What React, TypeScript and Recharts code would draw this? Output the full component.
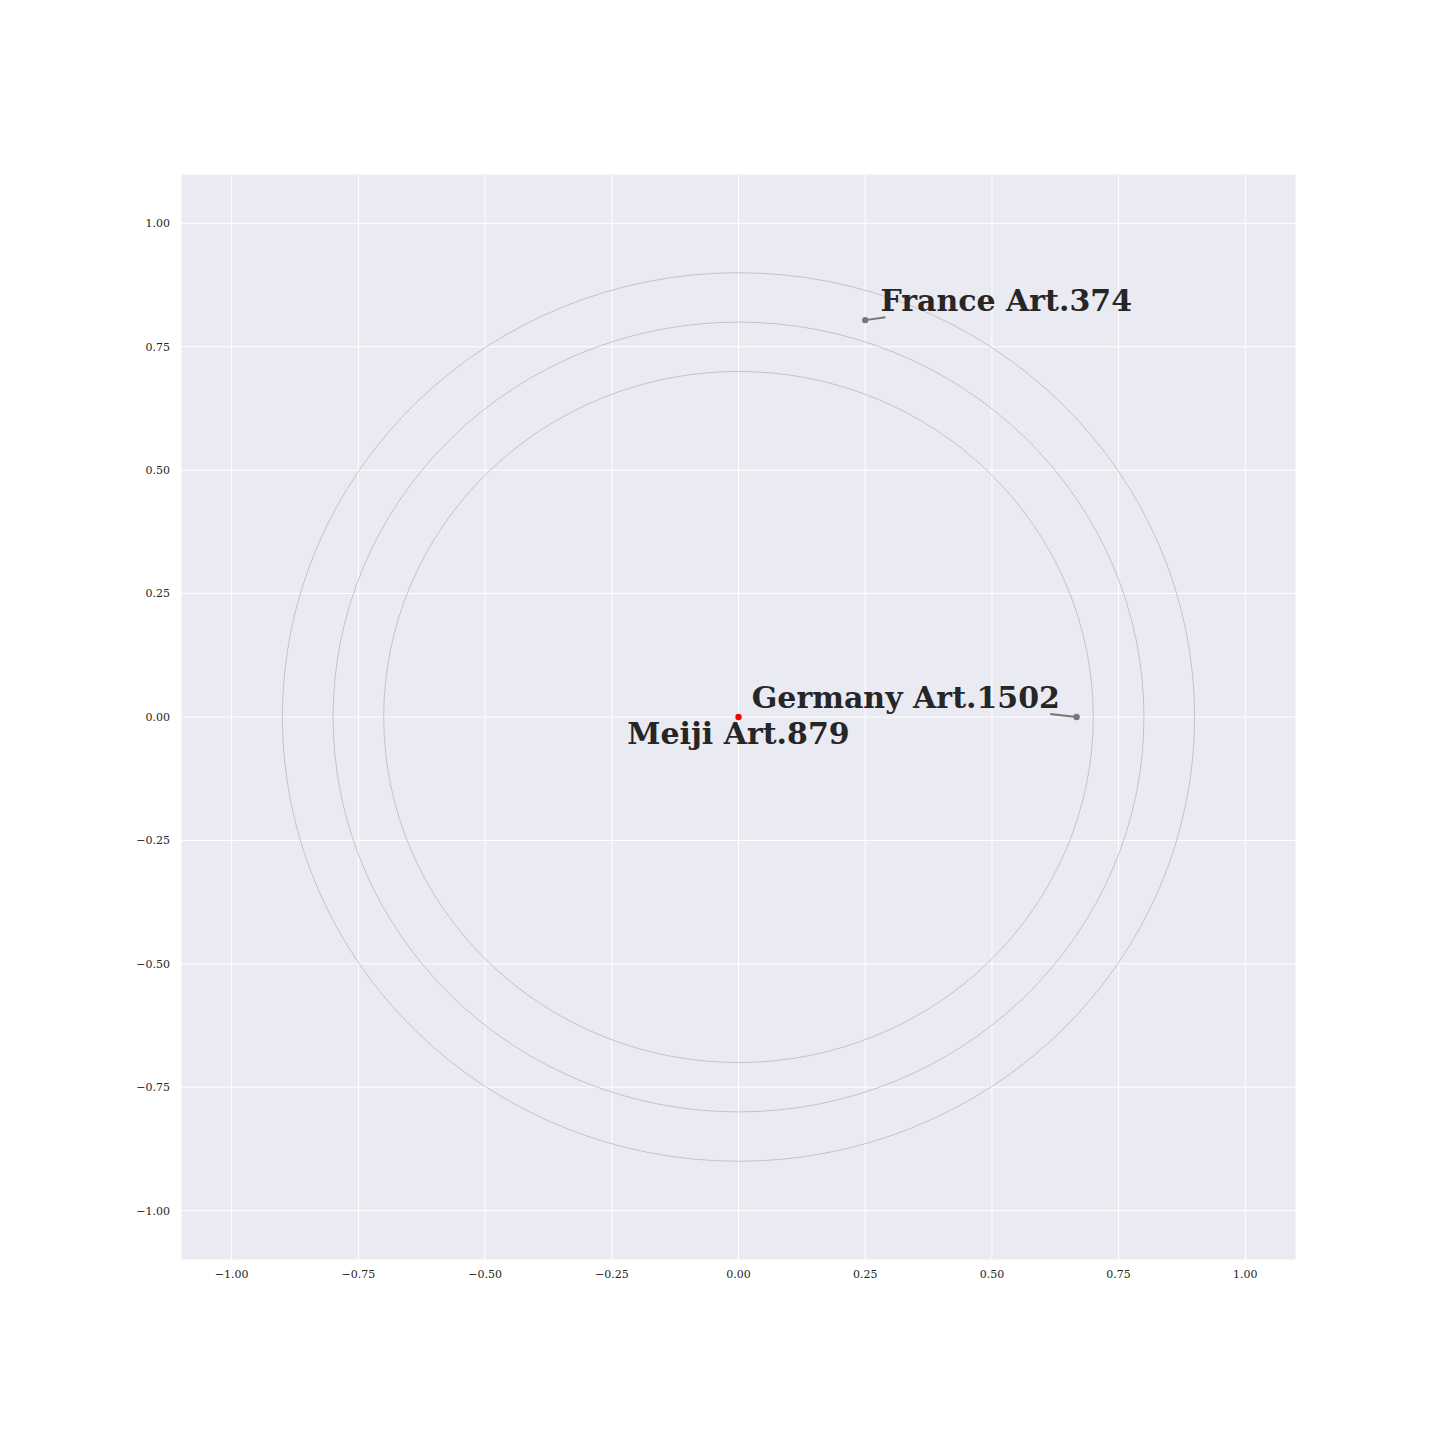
import { ScatterChart, Scatter, XAxis, YAxis, CartesianGrid, ReferenceLine, Customized } from 'recharts';

const ticks = [-1, -0.75, -0.5, -0.25, 0, 0.25, 0.5, 0.75, 1];
const ringRadii = [0.7, 0.8, 0.9];
const countryPoints = [
  { name: 'France Art.374', x: 0.25, y: 0.804 },
  { name: 'Germany Art.1502', x: 0.667, y: 0 },
];
const originPoint = [{ name: 'Meiji Art.879', x: 0, y: 0 }];
const labelTexts = ['France Art.374', 'Germany Art.1502', 'Meiji Art.879'];
const labelX = [0.28, 0.026, 0];
const labelY = [0.823, 0.018, -0.055];
const labelAnchor = ['start', 'start', 'middle'];
const connectors = [
  [{ x: 0.25, y: 0.804 }, { x: 0.29, y: 0.81 }],
  [{ x: 0.667, y: 0 }, { x: 0.615, y: 0.006 }],
];

const labels = labelTexts.map((text, i) => ({ text, x: labelX[i], y: labelY[i], anchor: labelAnchor[i] }));

// layout
const W = 1440;
const H = 1440;
const LEFT = 181;
const TOP = 174;
const RIGHT = 1296;
const BOTTOM = 1260;
const DOMAIN: [number, number] = [-1.1, 1.1];
const Y_AXIS_W = 60;
const X_AXIS_H = 30;

const font = '"DejaVu Serif", serif';
const fmt = (v: number) => v.toFixed(2).replace('-', '\u2212');

function Rings() {
  const span = DOMAIN[1] - DOMAIN[0];
  const cx = LEFT + ((0 - DOMAIN[0]) / span) * (RIGHT - LEFT);
  const cy = TOP + ((DOMAIN[1] - 0) / span) * (BOTTOM - TOP);
  return (
    <g>
      {ringRadii.map((r) => (
        <ellipse
          key={r}
          cx={cx}
          cy={cy}
          rx={(r / span) * (RIGHT - LEFT)}
          ry={(r / span) * (BOTTOM - TOP)}
          fill="none"
          stroke="#9a9a9a"
          strokeWidth={0.5}
        />
      ))}
    </g>
  );
}

export default function App() {
  return (
    <div style={{ position: 'absolute', left: 0, top: 0, width: W, height: H, background: '#fff' }}>
      <ScatterChart
        width={W}
        height={H}
        margin={{ top: TOP, left: LEFT - Y_AXIS_W, right: W - RIGHT, bottom: H - BOTTOM - X_AXIS_H }}
      >
        <CartesianGrid fill="#EAEAF2" stroke="#ffffff" strokeWidth={1} />
        <XAxis
          type="number"
          dataKey="x"
          domain={DOMAIN}
          ticks={ticks}
          allowDataOverflow
          tickFormatter={fmt}
          tickLine={false}
          axisLine={false}
          height={X_AXIS_H}
          tickMargin={4}
          tick={{ fontSize: 11, fill: '#262626', fontFamily: font }}
        />
        <YAxis
          type="number"
          dataKey="y"
          domain={DOMAIN}
          ticks={ticks}
          allowDataOverflow
          tickFormatter={fmt}
          tickLine={false}
          axisLine={false}
          width={Y_AXIS_W}
          tickMargin={5}
          tick={{ fontSize: 11, fill: '#262626', fontFamily: font }}
        />
        <Customized component={<Rings />} />
        {connectors.map((seg, i) => (
          <ReferenceLine key={i} segment={seg} stroke="#777777" strokeWidth={2} />
        ))}
        <Scatter
          data={countryPoints}
          isAnimationActive={false}
          shape={(p: any) => <circle cx={p.cx} cy={p.cy} r={3.2} fill="#777777" />}
        />
        <Scatter
          data={originPoint}
          isAnimationActive={false}
          shape={(p: any) => <circle cx={p.cx} cy={p.cy} r={3.2} fill="#ff0000" />}
        />
        <Scatter
          data={labels}
          isAnimationActive={false}
          shape={(p: any) => (
            <text
              x={p.cx}
              y={p.cy}
              textAnchor={p.payload.anchor}
              fontFamily={font}
              fontWeight="bold"
              fontSize={30}
              fill="#262626"
            >
              {p.payload.text}
            </text>
          )}
        />
      </ScatterChart>
    </div>
  );
}
